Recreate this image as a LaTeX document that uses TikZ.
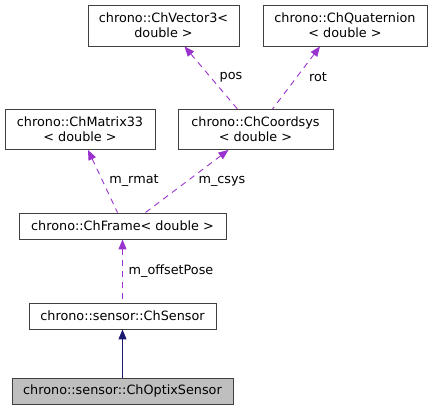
\documentclass[tikz,border=0pt]{standalone}
\usepackage{fontspec}
\setmainfont{DejaVu Sans}
\usepackage{tikz}
\definecolor{memberpurple}{HTML}{9A32CD}
\definecolor{basenavy}{HTML}{191970}
\tikzset{every picture/.style={x=1pt, y=-1pt}}
\tikzset{every node/.style={draw=black!75, rectangle, fill=white, inner sep=0pt, align=center, line width=0.9pt, font=\fontsize{12.8}{15}\selectfont}}
\tikzset{member/.style={draw=memberpurple, line width=0.9pt, dash pattern=on 6pt off 5pt, {Triangle[length=10pt, width=8pt, fill=memberpurple]}-}}
\tikzset{base/.style={draw=basenavy, line width=0.9pt, {Triangle[length=10pt, width=8pt, fill=basenavy]}-}}
\tikzset{edgelabel/.style={draw=none, fill=none}}
\usetikzlibrary{arrows.meta}

\begin{document}
\begin{tikzpicture}
\useasboundingbox (0,0) rectangle (432,411);
% class boxes
\node[minimum width=151, minimum height=41] (1) at (163.5,25.5) {chrono::ChVector3<\\double >};
\node[minimum width=164, minimum height=41] (2) at (345,25.5) {chrono::ChQuaternion\\< double >};
\node[minimum width=150, minimum height=40] (3) at (80,129.5) {chrono::ChMatrix33\\< double >};
\node[minimum width=155, minimum height=40] (4) at (255.5,129.5) {chrono::ChCoordsys\\< double >};
\node[minimum width=207, minimum height=26] (5) at (122.5,226) {chrono::ChFrame< double >};
\node[minimum width=187, minimum height=26] (6) at (122.5,316) {chrono::sensor::ChSensor};
\node[minimum width=221, minimum height=26, fill=black!25] (7) at (122.5,391) {chrono::sensor::ChOptixSensor};

% members
\draw[member] ([xshift=21]1.south) -- ([xshift=-18]4.north);
\draw[member] ([xshift=-25]2.south) -- ([xshift=17]4.north);
\draw[member] ([xshift=8]3.south) -- ([xshift=-5]5.north);
\draw[member] ([xshift=-27]4.south) -- ([xshift=23]5.north);
\draw[member] (5.south) -- (6.north);
% inheritance
\draw[base] (6.south) -- (7.north);

\node[edgelabel] (l1) at (231,77) {pos};
\node[edgelabel] (l2) at (318,77) {rot};
\node[edgelabel] (l3) at (134,181) {m\_rmat};
\node[edgelabel] (l4) at (222,181) {m\_csys};
\node[edgelabel] (l5) at (171,271) {m\_offsetPose};
\end{tikzpicture}
\end{document}
